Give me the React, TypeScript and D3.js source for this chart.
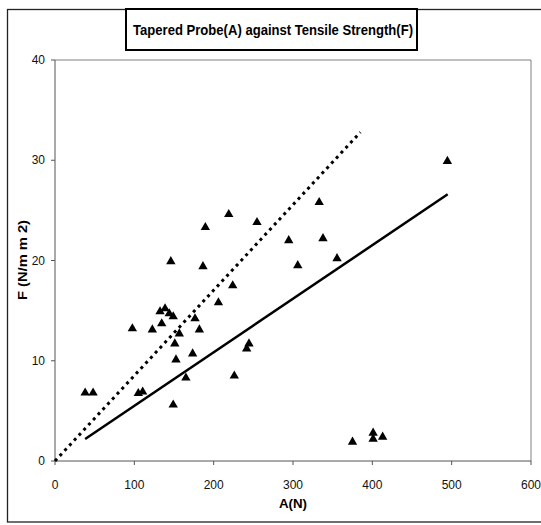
import React from "react";
import * as d3 from "d3";

const probeA = [38, 48, 97.5, 105, 110.5, 122.7, 132.4, 138.7, 144, 149, 134.5, 146, 149, 156.7, 151, 152.5, 165, 173.5, 176.5, 182, 186.5, 189.5, 206, 219, 224, 226, 241.6, 244.5, 254.6, 294.6, 306, 333, 337.8, 355.5, 375, 401, 401, 413, 494.6];
const strengthF = [6.8, 6.8, 13.2, 6.75, 6.9, 13.1, 14.9, 15.2, 14.7, 14.4, 13.7, 19.9, 5.6, 12.7, 11.7, 10.1, 8.3, 10.7, 14.2, 13.1, 19.4, 23.3, 15.8, 24.6, 17.5, 8.5, 11.2, 11.7, 23.8, 22.0, 19.5, 25.8, 22.2, 20.2, 1.9, 2.8, 2.2, 2.4, 29.9];
const solidLineX = [38, 495];
const solidLineY = [2.2, 26.6];
const dottedLineX = [0, 385];
const dottedLineY = [0, 32.8];
const xTicks = [0, 100, 200, 300, 400, 500, 600];
const yTicks = [0, 10, 20, 30, 40];

const font = "'Liberation Sans', Arial, sans-serif";

export default function App() {
  const W = 541, H = 525;
  const x = d3.scaleLinear().domain([0, 600]).range([55, 531]);
  const y = d3.scaleLinear().domain([0, 40]).range([461, 60]);
  const line = d3.line<[number, number]>().x(d => x(d[0])).y(d => y(d[1]));
  const tri = d3.symbol().type(d3.symbolTriangle).size(38)();
  const solid: [number, number][] = solidLineX.map((v, i) => [v, solidLineY[i]]);
  const dotted: [number, number][] = dottedLineX.map((v, i) => [v, dottedLineY[i]]);

  return (
    <svg width={W} height={H} style={{ position: "absolute", left: 0, top: 0, background: "#fff" }}>
      <rect x={7.5} y={9.5} width={560} height={512.5} fill="#fff" stroke="#222" strokeWidth={1.3} />
      {/* plot area border */}
      <line x1={x(0)} x2={x(600)} y1={y(40)} y2={y(40)} stroke="#808080" strokeWidth={1} />
      <line x1={x(600)} x2={x(600)} y1={y(40)} y2={y(0)} stroke="#808080" strokeWidth={1} />
      {/* axes */}
      <line x1={x(0)} x2={x(0)} y1={y(40)} y2={y(0)} stroke="#555" strokeWidth={1} />
      <line x1={x(0)} x2={x(600)} y1={y(0)} y2={y(0)} stroke="#555" strokeWidth={1} />
      {yTicks.map(t => (
        <g key={"y" + t}>
          <line x1={x(0) - 4} x2={x(0)} y1={y(t)} y2={y(t)} stroke="#555" />
          <text x={45} y={y(t)} dy="0.35em" textAnchor="end" fontFamily={font} fontSize={12} fill="#111">{t}</text>
        </g>
      ))}
      {xTicks.map(t => (
        <g key={"x" + t}>
          <line x1={x(t)} x2={x(t)} y1={y(0)} y2={y(0) + 4} stroke="#555" />
          <text x={x(t)} y={489} textAnchor="middle" fontFamily={font} fontSize={12} fill="#111">{t}</text>
        </g>
      ))}
      {/* trend lines */}
      <path d={line(dotted) || ""} fill="none" stroke="#000" strokeWidth={3} strokeDasharray="3,4" />
      <path d={line(solid) || ""} fill="none" stroke="#000" strokeWidth={2.5} />
      {/* points */}
      {probeA.map((a, i) => (
        <path key={i} d={tri || ""} transform={`translate(${x(a)},${y(strengthF[i])})`} fill="#000" />
      ))}
      {/* title */}
      <rect x={126} y={9} width={291} height={41} fill="#fff" stroke="#000" strokeWidth={2} />
      <text x={273} y={34.5} textAnchor="middle" fontFamily={font} fontWeight="bold" fontSize={15} textLength={280} lengthAdjust="spacingAndGlyphs" fill="#000">Tapered Probe(A) against Tensile Strength(F)</text>
      {/* axis titles */}
      <text x={293} y={508} textAnchor="middle" fontFamily={font} fontWeight="bold" fontSize={13} textLength={28} lengthAdjust="spacingAndGlyphs" fill="#000">A(N)</text>
      <text transform={`translate(27,260) rotate(-90)`} textAnchor="middle" fontFamily={font} fontWeight="bold" fontSize={13} textLength={80} lengthAdjust="spacingAndGlyphs" fill="#000">F (N/m m 2)</text>
    </svg>
  );
}
